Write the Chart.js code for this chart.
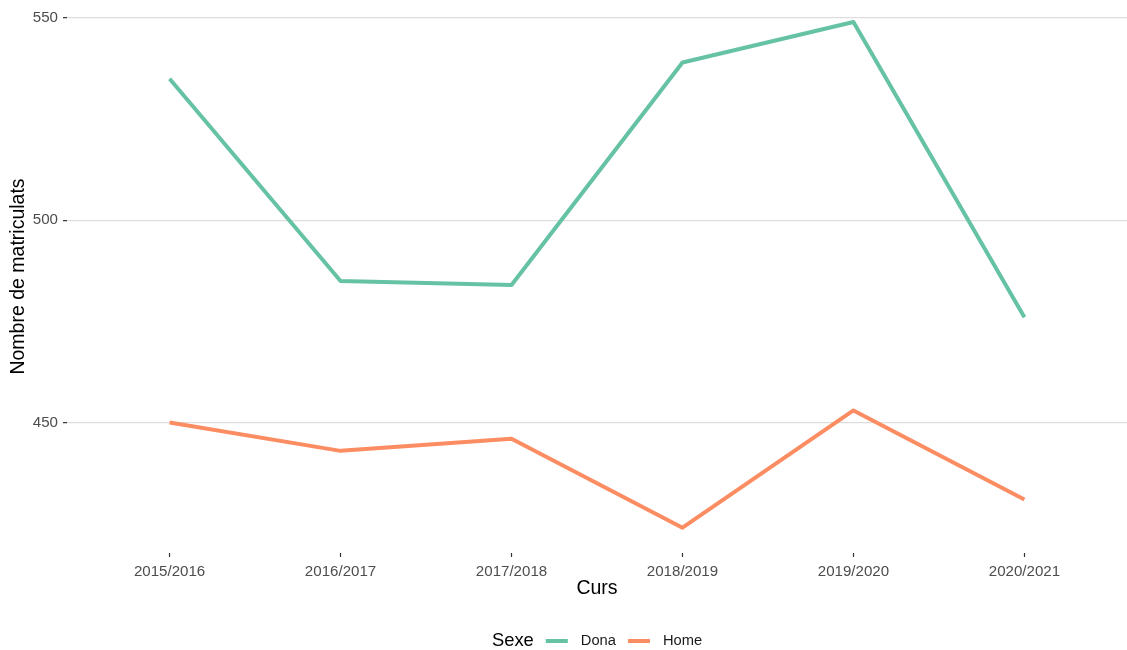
<!DOCTYPE html>
<html>
<head>
<meta charset="utf-8">
<script src="https://cdn.jsdelivr.net/npm/chart.js@4"></script>
<style>
  html, body { margin: 0; padding: 0; background: #fff; }
  #wrap { width: 1127px; height: 650px; }
</style>
</head>
<body>
<div id="wrap"><canvas id="lineChart"></canvas></div>
<script>
'use strict'

const cursos = ['2015/2016', '2016/2017', '2017/2018', '2018/2019', '2019/2020', '2020/2021'];
const dona = [535, 485, 484, 539, 549, 476];
const home = [450, 443, 446, 424, 453, 431];
const yTicks = [450, 500, 550];

const FONT = '"Liberation Sans", Arial, sans-serif';
const ctx = document.getElementById('lineChart');

const toPoints = (vals) => vals.map((v, i) => ({ x: i, y: v }));

// legend drawn in ggplot style: title on the left, line keys after it
const sideLegend = {
  id: 'sideLegend',
  afterDraw(chart) {
    const c = chart.ctx;
    const area = chart.chartArea;
    const y = 641;
    c.save();
    c.textBaseline = 'middle';
    c.textAlign = 'left';
    c.font = '18.4px ' + FONT;
    const titleW = c.measureText('Sexe').width;
    c.font = '14.7px ' + FONT;
    const items = chart.data.datasets.map(d => ({ label: d.label, color: d.borderColor, w: c.measureText(d.label).width }));
    const keyW = 22, gapA = 12, gapB = 13;
    let total = titleW;
    items.forEach(it => { total += gapA + keyW + gapB + it.w; });
    let x = (area.left + area.right) / 2 - total / 2;
    c.fillStyle = '#000';
    c.font = '18.4px ' + FONT;
    c.fillText('Sexe', x, y);
    x += titleW;
    c.font = '14.7px ' + FONT;
    items.forEach(it => {
      x += gapA;
      c.strokeStyle = it.color;
      c.lineWidth = 4;
      c.beginPath();
      c.moveTo(x, y);
      c.lineTo(x + keyW, y);
      c.stroke();
      x += keyW + gapB;
      c.fillStyle = '#1a1a1a';
      c.fillText(it.label, x, y);
      x += it.w;
    });
    c.restore();
  }
};

new Chart(ctx, {
  type: 'line',
  data: {
    datasets: [{
      label: 'Dona',
      data: toPoints(dona),
      borderColor: '#66c2a5',
      borderWidth: 4,
      borderJoinStyle: 'round',
      pointRadius: 0,
      tension: 0,
    }, {
      label: 'Home',
      data: toPoints(home),
      borderColor: '#fc8d62',
      borderWidth: 4,
      borderJoinStyle: 'round',
      pointRadius: 0,
      tension: 0,
    }]
  },
  plugins: [sideLegend],
  options: {
    responsive: true,
    maintainAspectRatio: false,
    animation: false,
    layout: { padding: { top: 0, left: 0, right: 0, bottom: 50 } },
    plugins: {
      legend: { display: false },
      tooltip: { enabled: false },
    },
    scales: {
      x: {
        type: 'linear',
        min: -0.6,
        max: cursos.length - 0.4,
        afterBuildTicks: (scale) => { scale.ticks = cursos.map((_, i) => ({ value: i })); },
        afterFit: (scale) => { scale.height = 47; scale.paddingLeft = 0; scale.paddingRight = 0; },
        ticks: {
          callback: (v) => cursos[v],
          color: '#4d4d4d',
          font: { family: FONT, size: 15.1 },
          padding: 5.5,
          maxRotation: 0,
          autoSkip: false,
        },
        grid: { drawOnChartArea: false, drawTicks: true, tickLength: 4, tickColor: '#333', tickWidth: 1.2 },
        border: { display: false },
        title: {
          display: true,
          text: 'Curs',
          color: '#000',
          font: { family: FONT, size: 19.5 },
          padding: { top: 0, bottom: 0 },
        },
      },
      y: {
        min: 417.75,
        max: 554.45,
        afterBuildTicks: (scale) => { scale.ticks = yTicks.map(v => ({ value: v })); },
        afterFit: (scale) => { scale.width = 67; scale.paddingTop = 0; scale.paddingBottom = 0; },
        ticks: {
          color: '#4d4d4d',
          font: { family: FONT, size: 15.1 },
          padding: 5,
        },
        grid: { color: '#dedede', lineWidth: 1.3, drawTicks: true, tickLength: 4, tickColor: '#333', tickWidth: 1.2 },
        border: { display: false },
        title: {
          display: true,
          text: 'Nombre de matriculats',
          color: '#000',
          font: { family: FONT, size: 19.5 },
          padding: { top: 7, bottom: 0 },
        },
      }
    }
  }
});
</script>
</body>
</html>
